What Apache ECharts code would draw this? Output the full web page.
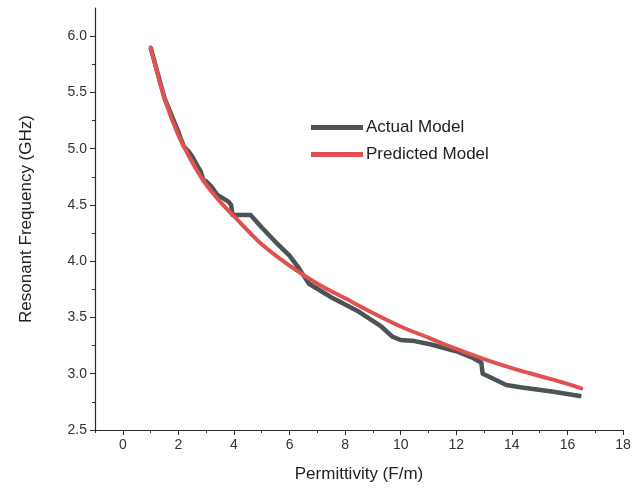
<!DOCTYPE html>
<html>
<head>
<meta charset="utf-8">
<script src="https://cdn.jsdelivr.net/npm/echarts@6/dist/echarts.min.js"></script>
<style>
  html, body { margin: 0; padding: 0; background: #fff; }
  #chart { width: 644px; height: 502px; }
</style>
</head>
<body>
<div id="chart"></div>
<script>
// values
const actualX = [1.0, 1.5, 2.0, 2.1, 2.2, 2.35, 2.5, 2.7, 2.8, 2.9, 3.0, 3.2, 3.4, 3.6, 3.8, 3.9, 3.95, 4.6, 5.0, 5.5, 6.0, 6.3, 6.7, 7.5, 8.5, 9.3, 9.7, 10.0, 10.5, 11.1, 12.0, 12.6, 12.9, 12.95, 13.3, 13.8, 14.3, 15.5, 16.5];
const actualY = [5.9, 5.45, 5.15, 5.08, 5.02, 4.98, 4.93, 4.84, 4.8, 4.72, 4.71, 4.66, 4.59, 4.56, 4.53, 4.5, 4.41, 4.41, 4.3, 4.17, 4.05, 3.95, 3.8, 3.68, 3.55, 3.42, 3.33, 3.3, 3.29, 3.26, 3.2, 3.14, 3.1, 3.0, 2.96, 2.9, 2.88, 2.84, 2.8];
const predX = [1.0, 1.5, 2.0, 2.5, 3.0, 3.5, 4.0, 5.0, 6.0, 7.0, 8.0, 9.0, 10.0, 11.0, 12.0, 13.0, 14.0, 15.0, 16.0, 16.5];
const predY = [5.9, 5.45, 5.12, 4.88, 4.68, 4.53, 4.4, 4.15, 3.96, 3.8, 3.67, 3.54, 3.42, 3.32, 3.22, 3.13, 3.05, 2.98, 2.91, 2.87];
const xMajor = [0, 2, 4, 6, 8, 10, 12, 14, 16, 18];
const xMinor = [-1, 1, 3, 5, 7, 9, 11, 13, 15, 17];
const yMajor = [2.5, 3.0, 3.5, 4.0, 4.5, 5.0, 5.5, 6.0];
const yMinor = [2.75, 3.25, 3.75, 4.25, 4.75, 5.25, 5.75];

const FONT = "'Liberation Sans', Arial, sans-serif";
const AXIS_COLOR = '#2a2a2a';

const pairs = (xs, ys) => xs.map((x, i) => [x, ys[i]]);

const chart = echarts.init(document.getElementById('chart'));

const xBase = { type: 'value', min: -1, max: 18, gridIndex: 0, splitLine: { show: false } };
const yBase = { type: 'value', min: 2.5, max: 6.25, gridIndex: 0, splitLine: { show: false } };

chart.setOption({
  animation: false,
  grid: { left: 95, right: 21, top: 8, bottom: 72 },
  legend: {
    orient: 'vertical',
    left: 306,
    top: 114,
    itemWidth: 52,
    itemHeight: 5,
    itemGap: 10,
    icon: 'rect',
    textStyle: { fontFamily: FONT, fontSize: 17, color: '#222', padding: [0, 0, 0, -2] },
    data: ['Actual Model', 'Predicted Model'],
  },
  xAxis: [
    {
      ...xBase,
      position: 'bottom',
      name: 'Permittivity (F/m)',
      nameLocation: 'middle',
      nameGap: 36,
      nameTextStyle: { fontFamily: FONT, fontSize: 17, color: '#222' },
      axisLine: { show: true, onZero: false, lineStyle: { color: AXIS_COLOR, width: 1.2 } },
      axisTick: { show: true, customValues: xMajor, length: 5, lineStyle: { color: AXIS_COLOR } },
      axisLabel: { customValues: xMajor, fontFamily: FONT, fontSize: 14, color: '#333', margin: 8 },
    },
    {
      ...xBase,
      position: 'bottom',
      axisLine: { show: false, onZero: false },
      axisTick: { show: true, customValues: xMinor, length: 3, lineStyle: { color: AXIS_COLOR } },
      axisLabel: { show: false },
    },
  ],
  yAxis: [
    {
      ...yBase,
      position: 'left',
      name: 'Resonant Frequency (GHz)',
      nameLocation: 'middle',
      nameGap: 60,
      nameRotate: 90,
      nameTextStyle: { fontFamily: FONT, fontSize: 17, color: '#222' },
      axisLine: { show: true, onZero: false, lineStyle: { color: AXIS_COLOR, width: 1.2 } },
      axisTick: { show: true, customValues: yMajor, length: 5, lineStyle: { color: AXIS_COLOR } },
      axisLabel: {
        customValues: yMajor,
        formatter: (v) => v.toFixed(1),
        fontFamily: FONT,
        fontSize: 14,
        color: '#333',
        margin: 8,
      },
    },
    {
      ...yBase,
      position: 'left',
      axisLine: { show: false, onZero: false },
      axisTick: { show: true, customValues: yMinor, length: 3, lineStyle: { color: AXIS_COLOR } },
      axisLabel: { show: false },
    },
  ],
  series: [
    {
      name: 'Actual Model',
      type: 'line',
      data: pairs(actualX, actualY),
      showSymbol: false,
      symbol: 'none',
      itemStyle: { color: '#4b5354' },
      lineStyle: { color: '#4b5354', width: 4.5, join: 'round' },
    },
    {
      name: 'Predicted Model',
      type: 'line',
      data: pairs(predX, predY),
      smooth: 0.3,
      showSymbol: false,
      symbol: 'none',
      itemStyle: { color: '#e0514f' },
      lineStyle: { color: '#e0514f', width: 4, cap: 'round' },
    },
  ],
});
</script>
</body>
</html>
